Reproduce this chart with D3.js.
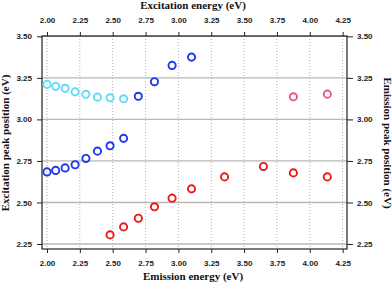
<!DOCTYPE html>
<html>
<head>
<meta charset="utf-8">
<script src="https://cdn.jsdelivr.net/npm/d3@7"></script>
<style>
  body { margin: 0; background: #fff; }
  .tick text { font-family: "Liberation Sans", Arial, sans-serif; font-weight: bold; font-size: 8px; fill: #222; }
  .title { font-family: "Liberation Serif", "Times New Roman", serif; font-weight: bold; font-size: 11px; fill: #111; }
</style>
</head>
<body>
<div id="chart"></div>
<script>
const width = 392;
const height = 284;

const xTicks = [2.00, 2.25, 2.50, 2.75, 3.00, 3.25, 3.50, 3.75, 4.00, 4.25];
const yTicks = [2.25, 2.50, 2.75, 3.00, 3.25, 3.50];

// excitation energy vs emission peak (top / right axes)
const cyanX = [2.00, 2.066, 2.138, 2.214, 2.296, 2.384, 2.48, 2.583];
const cyanY = [3.211, 3.199, 3.187, 3.166, 3.151, 3.134, 3.130, 3.124];
const blueUpX = [2.695, 2.818, 2.952, 3.100];
const blueUpY = [3.139, 3.227, 3.325, 3.375];
const pinkX = [3.875, 4.133];
const pinkY = [3.136, 3.152];

// emission energy vs excitation peak (bottom / left axes)
const blueLowX = [2.00, 2.066, 2.138, 2.214, 2.296, 2.384, 2.48, 2.583];
const blueLowY = [2.684, 2.693, 2.708, 2.727, 2.765, 2.809, 2.841, 2.886];
const redX = [2.48, 2.583, 2.695, 2.818, 2.952, 3.100, 3.351, 3.647, 3.875, 4.133];
const redY = [2.305, 2.353, 2.405, 2.474, 2.526, 2.582, 2.654, 2.717, 2.678, 2.654];

const series = [
  { x: cyanX, y: cyanY, color: "#5fdcf8" },
  { x: blueUpX, y: blueUpY, color: "#1f36ee" },
  { x: pinkX, y: pinkY, color: "#f4547f" },
  { x: blueLowX, y: blueLowY, color: "#1f36ee" },
  { x: redX, y: redY, color: "#ee1818" }
];

const plot = { left: 42, right: 347, top: 36, bottom: 249 };

const x = d3.scaleLinear().domain([1.962, 4.283]).range([plot.left, plot.right]);
const y = d3.scaleLinear().domain([2.22, 3.502]).range([plot.bottom, plot.top]);

const svg = d3.select("#chart")
  .append("svg")
  .attr("width", width)
  .attr("height", height);

// grid
svg.append("g")
  .selectAll("line")
  .data(xTicks)
  .enter()
  .append("line")
  .attr("x1", d => x(d)).attr("x2", d => x(d))
  .attr("y1", plot.top).attr("y2", plot.bottom)
  .attr("stroke", "#9a9a9a")
  .attr("stroke-width", 0.8)
  .attr("stroke-dasharray", "1,2");

svg.append("g")
  .selectAll("line")
  .data(yTicks)
  .enter()
  .append("line")
  .attr("x1", plot.left).attr("x2", plot.right)
  .attr("y1", d => y(d)).attr("y2", d => y(d))
  .attr("stroke", "#b8b8b8")
  .attr("stroke-width", 1.3);

// frame
svg.append("rect")
  .attr("x", plot.left).attr("y", plot.top)
  .attr("width", plot.right - plot.left)
  .attr("height", plot.bottom - plot.top)
  .attr("fill", "none")
  .attr("stroke", "#222")
  .attr("stroke-width", 1.2);

const fmt = d3.format(".2f");

function styleAxis(g) {
  g.select(".domain").remove();
  g.selectAll(".tick line").attr("stroke", "#222").attr("stroke-width", 1);
}

svg.append("g")
  .attr("transform", `translate(0,${plot.bottom})`)
  .call(d3.axisBottom(x).tickValues(xTicks).tickFormat(fmt).tickSize(4).tickPadding(7))
  .call(styleAxis);

svg.append("g")
  .attr("transform", `translate(0,${plot.top})`)
  .call(d3.axisTop(x).tickValues(xTicks).tickFormat(fmt).tickSize(4).tickPadding(9))
  .call(styleAxis);

svg.append("g")
  .attr("transform", `translate(${plot.left},0)`)
  .call(d3.axisLeft(y).tickValues(yTicks).tickFormat(fmt).tickSize(5).tickPadding(5))
  .call(styleAxis);

svg.append("g")
  .attr("transform", `translate(${plot.right},0)`)
  .call(d3.axisRight(y).tickValues(yTicks).tickFormat(fmt).tickSize(6).tickPadding(4))
  .call(styleAxis);

// points
series.forEach(s => {
  svg.append("g")
    .selectAll("circle")
    .data(s.x.map((v, i) => [v, s.y[i]]))
    .enter()
    .append("circle")
    .attr("cx", d => x(d[0]))
    .attr("cy", d => y(d[1]))
    .attr("r", 3.6)
    .attr("fill", "none")
    .attr("stroke", s.color)
    .attr("stroke-width", 1.9);
});

// titles
svg.append("text")
  .attr("class", "title")
  .attr("x", 193).attr("y", 8.5)
  .attr("text-anchor", "middle")
  .text("Excitation energy (eV)");

svg.append("text")
  .attr("class", "title")
  .attr("x", 193).attr("y", 280)
  .attr("text-anchor", "middle")
  .text("Emission energy (eV)");

svg.append("text")
  .attr("class", "title")
  .attr("transform", "rotate(-90)")
  .attr("x", -143).attr("y", 8.5)
  .attr("text-anchor", "middle")
  .text("Excitation peak position (eV)");

svg.append("text")
  .attr("class", "title")
  .attr("transform", "rotate(90)")
  .attr("x", 143).attr("y", -383.5)
  .attr("text-anchor", "middle")
  .text("Emission peak position (eV)");
</script>
</body>
</html>
